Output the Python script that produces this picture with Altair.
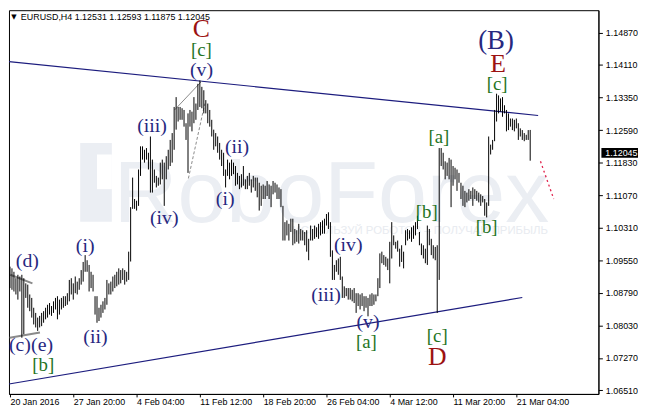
import altair as alt
import pandas as pd

# ---------------- data ----------------
highs = [
    1.0940, 1.0936, 1.0928, 1.0913, 1.0921, 1.0917, 1.0921, 1.0913, 1.0901, 1.0898,
    1.0875, 1.0867, 1.0844, 1.0832, 1.0821, 1.0825, 1.0832, 1.0836, 1.0844, 1.0851,
    1.0855, 1.0848, 1.0859, 1.0867, 1.0871, 1.0863, 1.0867, 1.0871, 1.0871, 1.0878,
    1.0909, 1.0913, 1.0901, 1.0917, 1.0905, 1.0913, 1.0932, 1.0951, 1.0967, 1.0955,
    1.0944, 1.0928, 1.0921, 1.0871, 1.0871, 1.0844, 1.0851, 1.0859, 1.0867, 1.0909,
    1.0901, 1.0905, 1.0917, 1.0921, 1.0928, 1.0936, 1.0932, 1.0936, 1.0932, 1.0928,
    1.0975, 1.1079, 1.1148, 1.1098, 1.1094, 1.1167, 1.1221, 1.1221, 1.1213, 1.1217,
    1.1206, 1.1244, 1.1190, 1.1167, 1.1152, 1.1148, 1.1183, 1.1190, 1.1183, 1.1198,
    1.1213, 1.1236, 1.1252, 1.1313, 1.1336, 1.1313, 1.1313, 1.1310, 1.1306, 1.1275,
    1.1298, 1.1306, 1.1302, 1.1336, 1.1321, 1.1367, 1.1375, 1.1360, 1.1352, 1.1329,
    1.1321, 1.1306, 1.1283, 1.1260, 1.1252, 1.1244, 1.1229, 1.1213, 1.1206, 1.1167,
    1.1190, 1.1183, 1.1190, 1.1183, 1.1175, 1.1159, 1.1152, 1.1156, 1.1175, 1.1144,
    1.1152, 1.1159, 1.1144, 1.1152, 1.1148, 1.1148, 1.1136, 1.1129, 1.1132, 1.1129,
    1.1140, 1.1132, 1.1129, 1.1140, 1.1136, 1.1132, 1.1125, 1.1121, 1.1082, 1.1044,
    1.1048, 1.1040, 1.1052, 1.1052, 1.1028, 1.1025, 1.1040, 1.1028, 1.1025, 1.1021,
    1.1025, 1.1005, 1.1036, 1.1028, 1.1036, 1.1032, 1.1040, 1.1044, 1.1048, 1.1052,
    1.1063, 1.1067, 1.1044, 1.0978, 1.0944, 1.0955, 1.0959, 1.0963, 1.0917, 1.0894,
    1.0890, 1.0890, 1.0890, 1.0886, 1.0890, 1.0878, 1.0878, 1.0875, 1.0878, 1.0871,
    1.0871, 1.0867, 1.0875, 1.0878, 1.0875, 1.0875, 1.0913, 1.0971, 1.0975, 1.0967,
    1.0963, 1.0959, 1.0998, 1.1044, 1.1013, 1.0998, 1.1001, 1.0982, 1.0990, 1.0975,
    1.1025, 1.1028, 1.1025, 1.1032, 1.1036, 1.1044, 1.1059, 1.1021, 1.0994, 1.0990,
    1.0982, 1.1036, 1.1028, 1.1005, 1.0990, 1.0986, 1.0990, 1.1217, 1.1217, 1.1206,
    1.1186, 1.1183, 1.1194, 1.1190, 1.1175, 1.1171, 1.1167, 1.1159, 1.1136, 1.1129,
    1.1117, 1.1113, 1.1121, 1.1117, 1.1125, 1.1121, 1.1117, 1.1113, 1.1109, 1.1105,
    1.1098, 1.1090, 1.1244, 1.1225, 1.1236, 1.1306, 1.1344, 1.1340, 1.1333, 1.1336,
    1.1317, 1.1306, 1.1298, 1.1286, 1.1286, 1.1283, 1.1286, 1.1275, 1.1263, 1.1259,
    1.1252, 1.1248, 1.1259, 1.12593,
]
lows = [
    1.0890, 1.0886, 1.0882, 1.0875, 1.0863, 1.0882, 1.0774, 1.0782, 1.0867, 1.0844,
    1.0836, 1.0821, 1.0805, 1.0798, 1.0790, 1.0798, 1.0801, 1.0809, 1.0817, 1.0821,
    1.0828, 1.0825, 1.0832, 1.0840, 1.0817, 1.0828, 1.0840, 1.0844, 1.0848, 1.0851,
    1.0859, 1.0875, 1.0863, 1.0878, 1.0875, 1.0886, 1.0898, 1.0905, 1.0928, 1.0928,
    1.0882, 1.0890, 1.0882, 1.0828, 1.0809, 1.0813, 1.0821, 1.0832, 1.0840, 1.0851,
    1.0875, 1.0875, 1.0882, 1.0890, 1.0894, 1.0898, 1.0901, 1.0909, 1.0898, 1.0905,
    1.0909, 1.0952, 1.1075, 1.1075, 1.1071, 1.1082, 1.1152, 1.1190, 1.1183, 1.1190,
    1.1167, 1.1113, 1.1113, 1.1136, 1.1125, 1.1129, 1.1132, 1.1144, 1.1082, 1.1144,
    1.1167, 1.1175, 1.1183, 1.1213, 1.1260, 1.1279, 1.1283, 1.1283, 1.1267, 1.1236,
    1.1159, 1.1267, 1.1256, 1.1275, 1.1283, 1.1306, 1.1313, 1.1310, 1.1298, 1.1298,
    1.1275, 1.1267, 1.1244, 1.1213, 1.1221, 1.1206, 1.1190, 1.1175, 1.1152, 1.1125,
    1.1152, 1.1144, 1.1152, 1.1156, 1.1129, 1.1132, 1.1121, 1.1125, 1.1129, 1.1121,
    1.1121, 1.1129, 1.1113, 1.1125, 1.1117, 1.1102, 1.1071, 1.1082, 1.1098, 1.1098,
    1.1105, 1.1098, 1.1079, 1.1109, 1.1113, 1.1098, 1.1098, 1.1079, 1.1001, 1.1001,
    1.1013, 1.1001, 1.1021, 1.0990, 1.0994, 1.0998, 1.0994, 1.1001, 1.1001, 1.0990,
    1.0975, 1.0955, 1.1001, 1.1001, 1.1005, 1.1009, 1.1005, 1.1013, 1.1017, 1.1017,
    1.1036, 1.1028, 1.0963, 1.0909, 1.0909, 1.0928, 1.0921, 1.0909, 1.0867, 1.0867,
    1.0871, 1.0863, 1.0863, 1.0859, 1.0855, 1.0832, 1.0848, 1.0840, 1.0848, 1.0836,
    1.0844, 1.0824, 1.0848, 1.0848, 1.0851, 1.0859, 1.0871, 1.0890, 1.0948, 1.0944,
    1.0940, 1.0932, 1.0901, 1.0959, 1.0990, 1.0982, 1.0975, 1.0940, 1.0951, 1.0936,
    1.0990, 1.1001, 1.1005, 1.0998, 1.1005, 1.1013, 1.1028, 1.0990, 1.0967, 1.0959,
    1.0948, 1.0944, 1.0990, 1.0967, 1.0959, 1.0955, 1.0832, 1.0909, 1.1175, 1.1167,
    1.1144, 1.1152, 1.1144, 1.1079, 1.1129, 1.1144, 1.1117, 1.1136, 1.1098, 1.1082,
    1.1079, 1.1090, 1.1094, 1.1098, 1.1082, 1.1098, 1.1094, 1.1090, 1.1082, 1.1090,
    1.1059, 1.1055, 1.1082, 1.1202, 1.1213, 1.1233, 1.1279, 1.1298, 1.1302, 1.1290,
    1.1298, 1.1256, 1.1259, 1.1267, 1.1259, 1.1256, 1.1263, 1.1236, 1.1244, 1.1236,
    1.1233, 1.1236, 1.1236, 1.11875,
]

x_tick_pos = [0, 32, 64, 96, 128, 160, 192, 224, 256]
x_tick_labels = ["20 Jan 2016", "27 Jan 20:00", "4 Feb 04:00", "11 Feb 12:00",
                 "18 Feb 20:00", "26 Feb 04:00", "4 Mar 12:00", "11 Mar 20:00",
                 "21 Mar 04:00"]
y_ticks = [1.06510, 1.07270, 1.08030, 1.08790, 1.09550, 1.10310, 1.11070,
           1.11830, 1.12590, 1.13350, 1.14110, 1.14870]

header_text = "EURUSD,H4  1.12531 1.12593 1.11875 1.12045"
last_price = 1.12045
last_box = [1.11941, 1.12172]

# Elliott wave labels
roman_text = ["(d)", "(i)", "(c)", "(e)", "(ii)", "(iii)", "(iv)", "(v)",
              "(i)", "(ii)", "(iii)", "(iv)", "(v)", "(B)"]
roman_bar = [8.8, 38, 5.0, 16.2, 43.2, 71.8, 78, 96.8, 108.8, 114.8, 159.8, 171, 181, 245.7]
roman_price = [1.0952, 1.0989, 1.0757, 1.0757, 1.0776, 1.1269, 1.1053, 1.1400,
               1.1098, 1.1219, 1.0874, 1.0990, 1.0811, 1.1467]
roman_size = [20, 20, 20, 20, 20, 20, 20, 20, 20, 20, 20, 20, 20, 27]

bracket_text = ["[b]", "[c]", "[a]", "[b]", "[c]", "[a]", "[b]", "[c]"]
bracket_bar = [16.8, 96.8, 180.2, 210.7, 216, 216.8, 241, 246.3]
bracket_price = [1.0711, 1.1446, 1.0764, 1.1067, 1.0778, 1.1243, 1.1032, 1.1367]

major_text = ["C", "D", "E"]
major_bar = [96.8, 216, 246.8]
major_price = [1.1494, 1.0728, 1.1414]

# trend / helper lines (start bar, end bar, start price, end price)
navy_b0 = [-0.5, -0.5]
navy_b1 = [267, 259]
navy_p0 = [1.1419, 1.0666]
navy_p1 = [1.1293, 1.0868]

grey_b0 = [0.15, -0.15, 83.2]
grey_b1 = [11.35, 15.15, 96.9]
grey_p0 = [1.0921, 1.0774, 1.1306]
grey_p1 = [1.0901, 1.0786, 1.1373]
grey_w = [2.0, 2.0, 1.0]

dash_b0, dash_b1, dash_p0, dash_p1 = [90.2], [98.5], [1.1146], [1.1321]
red_b0, red_b1, red_p0, red_p1 = [268.2], [274.9], [1.1186], [1.1098]

# watermark
wm_text = ["RoboForex"]
wm_bar = [52.5]
wm_price = [1.1045]
slogan_text = ["ИСПОЛЬЗУЙ РОБОТОВ – ПОЛУЧАЙ ПРИБЫЛЬ"]
slogan_bar = [272]
slogan_price = [1.1024]
logo_b0, logo_b1, logo_p0, logo_p1 = [35.5], [51.5], [1.1045], [1.1229]
logo_cut_b0, logo_cut_b1, logo_cut_p0, logo_cut_p1 = [44], [51.5], [1.1121], [1.1202]

# ---------------- chart ----------------
W, H = 596, 388
xs = alt.Scale(domain=[-0.5, 297.5], nice=False, zero=False)
ys = alt.Scale(domain=[1.06427, 1.15390], nice=False, zero=False)

label_expr = ("[" + ",".join("'%s'" % t for t in x_tick_labels) + "][indexof(["
              + ",".join(str(p) for p in x_tick_pos) + "], datum.value)]")

AX_FONT = "Liberation Sans"
x_axis = alt.Axis(values=x_tick_pos, labelExpr=label_expr, labelAlign="left",
                  labelBaseline="top", labelPadding=1, tickSize=3, labelFlush=False,
                  labelOverlap=False, labelBound=False, grid=False, title=None,
                  labelFont=AX_FONT, labelFontSize=9, labelColor="black",
                  domainColor="black", tickColor="black")
y_axis = alt.Axis(orient="right", values=y_ticks, format=".5f", tickSize=4,
                  labelPadding=3, grid=False, title=None, labelFont=AX_FONT,
                  labelFontSize=9, labelColor="black", labelOverlap=False,
                  labelFlush=False, labelBound=False,
                  domainColor="black", tickColor="black")


def X(field):
    return alt.X(field, scale=xs, axis=x_axis)


def Y(field):
    return alt.Y(field, scale=ys, axis=y_axis)


bars = pd.DataFrame({"bar": list(range(len(highs))), "high": highs, "low": lows})


def seg(b0, b1, p0, p1, **extra):
    d = {"b0": b0, "b1": b1, "p0": p0, "p1": p1}
    d.update(extra)
    return pd.DataFrame(d)


def seg_layer(df, mark):
    return alt.Chart(df).mark_rule(**mark).encode(
        x=X("b0:Q"), x2="b1:Q", y=Y("p0:Q"), y2="p1:Q")


def rect_layer(df, color):
    return alt.Chart(df).mark_rect(color=color).encode(
        x=X("b0:Q"), x2="b1:Q", y=Y("p0:Q"), y2="p1:Q")


def text_layer(txt, bar, price, mark, size=None):
    d = {"label": txt, "bar": bar, "price": price}
    enc = {}
    if size is not None:
        d["size"] = size
        enc["size"] = alt.Size("size:Q", scale=None, legend=None)
    return alt.Chart(pd.DataFrame(d)).mark_text(**mark).encode(
        x=X("bar:Q"), y=Y("price:Q"), text="label:N", **enc)


WM = "#ebeef3"
logo = rect_layer(seg(logo_b0, logo_b1, logo_p0, logo_p1), WM)
logo_cut = rect_layer(seg(logo_cut_b0, logo_cut_b1, logo_cut_p0, logo_cut_p1), "white")
wm = text_layer(wm_text, wm_bar, wm_price,
                dict(font="Liberation Sans", fontSize=89, color=WM,
                     align="left", baseline="alphabetic"))
slogan = text_layer(slogan_text, slogan_bar, slogan_price,
                    dict(font="Liberation Sans", fontSize=11.5, color="#e8ebf0",
                         align="right", baseline="middle"))

navy = seg_layer(seg(navy_b0, navy_b1, navy_p0, navy_p1),
                 dict(color="#1c1c7e", strokeWidth=1.2, clip=True))
grey = alt.Chart(seg(grey_b0, grey_b1, grey_p0, grey_p1, w=grey_w)).mark_rule(
    color="#8a8a8a").encode(
    x=X("b0:Q"), x2="b1:Q", y=Y("p0:Q"), y2="p1:Q",
    strokeWidth=alt.StrokeWidth("w:Q", scale=None, legend=None))
grey_dash = seg_layer(seg(dash_b0, dash_b1, dash_p0, dash_p1),
                      dict(color="#8a8a8a", strokeWidth=1, strokeDash=[3, 2]))
red = seg_layer(seg(red_b0, red_b1, red_p0, red_p1),
                dict(color="#e0204a", strokeWidth=1.3, strokeDash=[2, 3]))

ohlc = alt.Chart(bars).mark_rule(color="black", strokeWidth=1).encode(
    x=X("bar:Q"), y=Y("low:Q"), y2="high:Q")

SERIF = "Liberation Serif"
roman = text_layer(roman_text, roman_bar, roman_price,
                   dict(font=SERIF, color="#27287f", align="center", baseline="middle"),
                   size=roman_size)
bracket = text_layer(bracket_text, bracket_bar, bracket_price,
                     dict(font=SERIF, fontSize=19, color="#1f741f", align="center",
                          baseline="middle"))
major = text_layer(major_text, major_bar, major_price,
                   dict(font=SERIF, fontSize=26, color="#9c1212", align="center",
                        baseline="middle"))

hdr = pd.DataFrame({"t": [header_text]})
header = alt.Chart(hdr).mark_text(align="left", baseline="middle", font=AX_FONT,
                                  fontSize=9, color="black").encode(
    x=alt.value(12), y=alt.value(7), text="t:N")
tri = alt.Chart(pd.DataFrame({"t": ["▼"]})).mark_text(
    align="center", baseline="middle", font="DejaVu Sans", fontSize=7,
    color="black").encode(x=alt.value(5), y=alt.value(7), text="t:N")

box_df = pd.DataFrame({"lo": [last_box[0]], "hi": [last_box[1]], "p": [last_price],
                       "t": ["%.5f" % last_price]})
price_box = alt.Chart(box_df).mark_rect(color="black").encode(
    x=alt.value(W + 3), x2=alt.value(W + 40), y=Y("lo:Q"), y2="hi:Q")
price_txt = alt.Chart(box_df).mark_text(align="left", baseline="middle", font=AX_FONT,
                                        fontSize=9, color="white").encode(
    x=alt.value(W + 7), y=Y("p:Q"), text="t:N")

chart = alt.layer(
    logo, logo_cut, wm, slogan, navy, grey, grey_dash, red, ohlc,
    roman, bracket, major, header, tri, price_box, price_txt,
).properties(width=W, height=H, padding=0, background="white").configure_view(
    stroke="black", strokeWidth=1)

chart.save("out.html", embed_options={"renderer": "svg", "actions": False})
